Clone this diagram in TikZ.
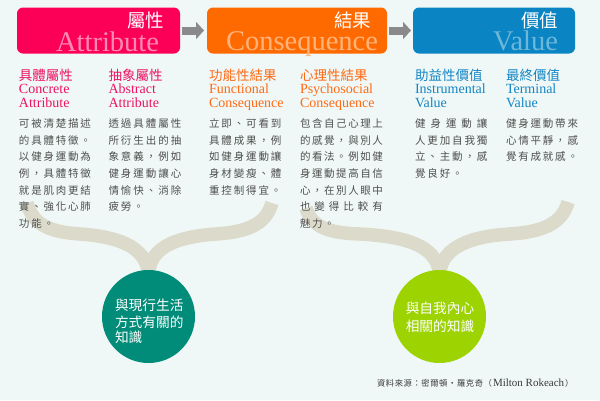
\documentclass[tikz,border=0pt]{standalone}
\usepackage{fontspec}
\setmainfont{Liberation Serif}
\newfontfamily\cjk{Noto Sans CJK TC}
\usetikzlibrary{arrows.meta}
\definecolor{bgcol}{HTML}{EFF8F6}
\definecolor{boxred}{HTML}{FC0057}
\definecolor{boxorange}{HTML}{FF6A00}
\definecolor{boxblue}{HTML}{0A84C2}
\definecolor{ltred}{HTML}{FF8AB0}
\definecolor{ltorange}{HTML}{FFB47C}
\definecolor{ltblue}{HTML}{6DB7DB}
\definecolor{hdred}{HTML}{EE1262}
\definecolor{hdorange}{HTML}{FF6A14}
\definecolor{hdblue}{HTML}{1385C5}
\definecolor{bodygray}{HTML}{4F4F4F}
\definecolor{arrowgray}{HTML}{8A8A8A}
\definecolor{bracecol}{HTML}{DCDBCB}
\definecolor{circteal}{HTML}{008C78}
\definecolor{circgreen}{HTML}{9CD300}
\definecolor{srcgray}{HTML}{3A3A3A}
\pgfdeclarelayer{bottom}
\pgfdeclarelayer{back}
\pgfsetlayers{bottom,back,main}
\ExplSyntaxOn
\NewDocumentCommand\jl{mm}{
  \tl_set:Nx \l_tmpa_tl {#2}
  \hbox~to~#1pt{\tl_map_inline:Nn \l_tmpa_tl {##1\hfil}\unskip}
}
\ExplSyntaxOff
\begin{document}
\begin{tikzpicture}[x=1pt,y=-1pt,
  every node/.style={inner sep=0pt, outer sep=0pt},
  hdrbox/.style={rounded corners=6pt, minimum height=46pt},
  boxzh/.style={anchor=base east, text=white, text depth=0pt, font=\cjk\fontsize{18.5}{20}\selectfont},
  boxen/.style={anchor=base east, text height=19pt, text depth=0pt, font=\fontsize{28.5}{30}\selectfont},
  bigarrow/.style={draw=arrowgray, line width=8pt, -{Triangle[length=8pt,width=17pt]}},
  hzh/.style={anchor=base west, font=\cjk\fontsize{13.5}{14}\selectfont},
  hen/.style={anchor=base west, font=\fontsize{14}{15}\selectfont},
  body/.style={anchor=base west, text=bodygray, font=\cjk\fontsize{10.5}{12}\selectfont},
  brace/.style={draw=bracecol, line width=13.5pt},
  knob/.style={circle, minimum size=93pt},
  ctext/.style={text=white, font=\cjk\fontsize{13.7}{14}\selectfont}]
\begin{pgfonlayer}{bottom}
\fill[bgcol] (0,0) rectangle (600,400);
\end{pgfonlayer}
\useasboundingbox (0,0) rectangle (600,400);

% header boxes
\node[hdrbox, fill=boxred, minimum width=163pt] (attr) at (98.5,30.5) {};
\node[hdrbox, fill=boxorange, minimum width=180pt] (cons) at (297,30.5) {};
\node[hdrbox, fill=boxblue, minimum width=162pt] (val) at (494,30.5) {};
\node[boxzh] (attrzh) at (164,27.5) {屬性};
\node[boxen, text=ltred] (attren) at (159,51.5) {Attribute};
\node[boxzh] (conszh) at (371,27) {結果};
\node[boxen, text=ltorange] (consen) at (378,50.5) {Consequence};
\node[boxzh] (valzh) at (558,27.5) {價值};
\node[boxen, text=ltblue] (valen) at (558,50.5) {Value};
\draw[bigarrow, shorten <=2pt, shorten >=3pt] (attr.east) -- (cons.west);
\draw[bigarrow, shorten <=2pt, shorten >=2pt] (cons.east) -- (val.west);

% column headings
\node[hzh, text=hdred] (h1) at (19,80) {具體屬性};
\node[hen, text=hdred] (h1a) at (19,93.5) {Concrete};
\node[hen, text=hdred] (h1b) at (19,107) {Attribute};
\node[hzh, text=hdred] (h2) at (108.5,80) {抽象屬性};
\node[hen, text=hdred] (h2a) at (108.5,93.5) {Abstract};
\node[hen, text=hdred] (h2b) at (108.5,107) {Attribute};
\node[hzh, text=hdorange] (h3) at (209,80) {功能性結果};
\node[hen, text=hdorange] (h3a) at (209,93.5) {Functional};
\node[hen, text=hdorange] (h3b) at (209,107) {Consequence};
\node[hzh, text=hdorange] (h4) at (300,80) {心理性結果};
\node[hen, text=hdorange] (h4a) at (300,93.5) {Psychosocial};
\node[hen, text=hdorange] (h4b) at (300,107) {Consequence};
\node[hzh, text=hdblue] (h5) at (415,80) {助益性價值};
\node[hen, text=hdblue] (h5a) at (415,93.5) {Instrumental};
\node[hen, text=hdblue] (h5b) at (415,107) {Value};
\node[hzh, text=hdblue] (h6) at (506,80) {最終價值};
\node[hen, text=hdblue] (h6a) at (506,93.5) {Terminal};
\node[hen, text=hdblue] (h6b) at (506,107) {Value};

% body text
\foreach \w/\t [count=\i] in {72/可被清楚描述,72/的具體特徵。,72/以健身運動為,72/例，具體特徵,72/就是肌肉更結,72/實、強化心肺,35.1/功能。}
  \node[body] (ca\i) at (19,{127.5+(\i-1)*16.67}) {\jl{\w}{\t}};
\foreach \w/\t [count=\i] in {73/透過具體屬性,73/所衍生出的抽,73/象意義，例如,73/健身運動讓心,73/情愉快、消除,35.5/疲勞。}
  \node[body] (cb\i) at (108.5,{127.5+(\i-1)*16.67}) {\jl{\w}{\t}};
\foreach \w/\t [count=\i] in {72.5/立即、可看到,72.5/具體成果，例,72.5/如健身運動讓,72.5/身材變瘦、體,72.5/重控制得宜。}
  \node[body] (cc\i) at (209,{127.5+(\i-1)*16.67}) {\jl{\w}{\t}};
\foreach \w/\t [count=\i] in {83/包含自己心理上,83/的感覺，與別人,83/的看法。例如健,83/身運動提高自信,83/心，在別人眼中,83/也變得比較有,34.7/魅力。}
  \node[body] (cd\i) at (300,{127.5+(\i-1)*16.67}) {\jl{\w}{\t}};
\foreach \w/\t [count=\i] in {72.5/健身運動讓,72.5/人更加自我獨,72.5/立、主動，感,47.7/覺良好。}
  \node[body] (ce\i) at (415,{127.5+(\i-1)*16.67}) {\jl{\w}{\t}};
\foreach \w/\t [count=\i] in {72/健身運動帶來,72/心情平靜，感,72/覺有成就感。}
  \node[body] (cf\i) at (506,{127.5+(\i-1)*16.67}) {\jl{\w}{\t}};

% circles
\node[knob, fill=circteal] (k1) at (148.5,316.5) {};
\node[knob, fill=circgreen] (k2) at (439.5,316.5) {};
\node[ctext, anchor=base west] (k1a) at (115,310.3) {與現行生活};
\node[ctext, anchor=base west] (k1b) at (115,327) {方式有關的};
\node[ctext, anchor=base west] (k1c) at (115,342.6) {知識};
\node[ctext, anchor=base] (k2a) at (440,313.6) {與自我內心};
\node[ctext, anchor=base] (k2b) at (440,331.3) {相關的知識};

% braces
\coordinate (b1l) at (27,203);
\coordinate (b1r) at (272,203);
\coordinate (b2l) at (306,208);
\coordinate (b2r) at (568,202);
\begin{pgfonlayer}{back}
\draw[brace] (b1l) .. controls (33,225) and (50,232) .. (80,234)
  .. controls (115,236.5) and (146,245) .. ([yshift=-4pt]k1.north);
\draw[brace] ([yshift=-4pt]k1.north) .. controls (150,245) and (181,236.5) .. (216,234)
  .. controls (246,232) and (266,225) .. (b1r);
\draw[brace] (b2l) .. controls (312,228) and (330,233) .. (360,234)
  .. controls (405,236.5) and (437,245) .. ([yshift=-4pt]k2.north);
\draw[brace] ([yshift=-4pt]k2.north) .. controls (442,245) and (475,236) .. (510,234)
  .. controls (540,232) and (562,225) .. (b2r);
\end{pgfonlayer}

% source
\node[anchor=base west, text=srcgray] (src) at (377,386.5)
  {\cjk\fontsize{8.3}{9}\selectfont\jl{115}{資料來源：密爾頓・羅克奇（}\hspace{1pt}{\rmfamily\fontsize{11}{12}\selectfont Milton Rokeach}\hspace{1pt}）};
\end{tikzpicture}
\end{document}
